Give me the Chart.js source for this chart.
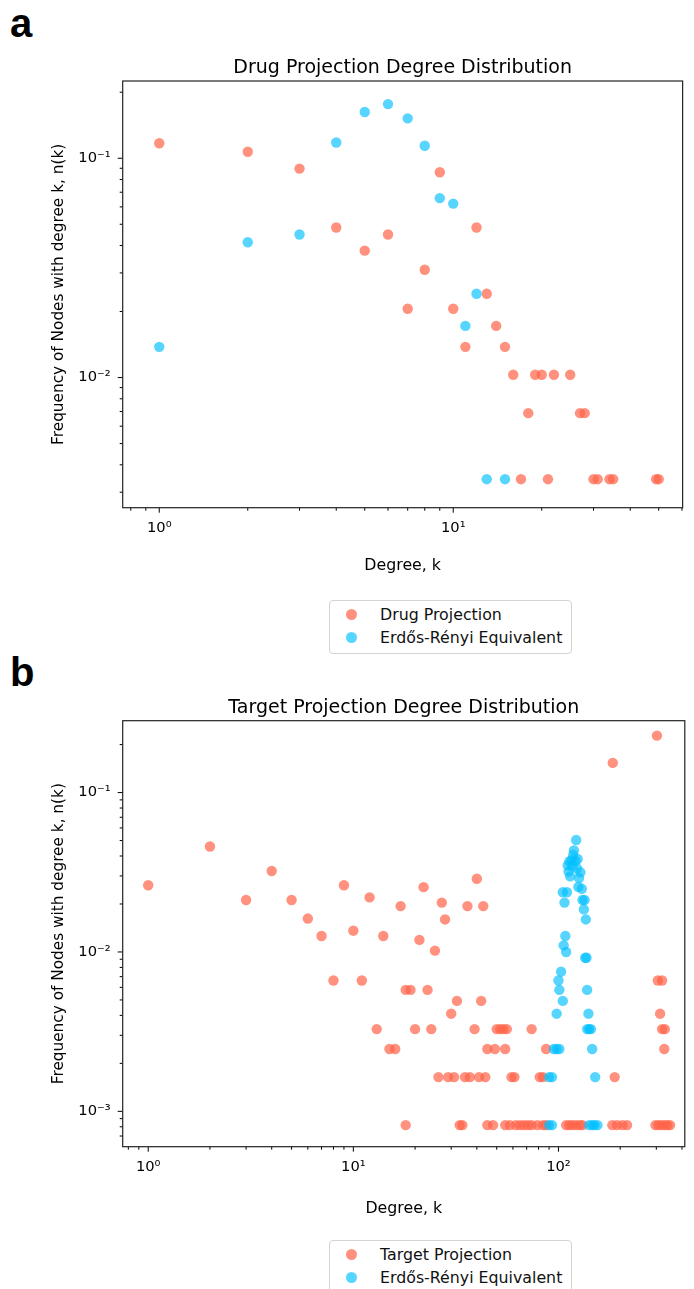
<!DOCTYPE html>
<html>
<head>
<meta charset="utf-8">
<script src="https://cdn.jsdelivr.net/npm/chart.js@4"></script>
<style>
  body { margin: 0; width: 694px; height: 1289px; background: #fff; position: relative; overflow: hidden; font-family: "DejaVu Sans", sans-serif; }
  .panel { position: absolute; left: 10px; font-family: "Liberation Sans", Arial, sans-serif; font-weight: bold; font-size: 40px; line-height: 40px; color: #000; }
  .wrap { position: absolute; left: 0; width: 694px; height: 540px; }
  .legend { position: absolute; left: 329px; width: 241px; border: 1px solid #d4d4d4; border-radius: 4px; background: #fff; font-size: 15.8px; color: #111; padding: 2px 0 4px 0; }
  .legend .row { position: relative; height: 23px; line-height: 23px; padding-left: 50px; }
  .legend .dot { position: absolute; left: 16px; top: 6px; width: 11px; height: 11px; border-radius: 50%; }
</style>
</head>
<body>
<div class="panel" style="top:3px">a</div>
<div class="panel" style="top:652px">b</div>

<div class="wrap" style="top:40px"><canvas id="chartA" width="694" height="540"></canvas></div>
<div class="wrap" style="top:680px"><canvas id="chartB" width="694" height="540"></canvas></div>

<div class="legend" id="legendA" style="top:600px"></div>
<div class="legend" id="legendB" style="top:1240px"></div>

<script>
// PAINEL A - PROJEÇÃO DOS FÁRMACOS (grau k, frequência n(k))
const drugK = [1, 2, 3, 4, 5, 6, 7, 8, 9, 10, 11, 12, 13, 14, 15, 16, 17, 18, 19, 20, 21, 22, 25, 27, 28, 30, 31, 34, 35, 49, 50];
const drugN = [0.117, 0.107, 0.0897, 0.0483, 0.0379, 0.0449, 0.0206, 0.031, 0.0863, 0.0206, 0.0138, 0.0483, 0.0241, 0.0172, 0.0138, 0.0103, 0.00344, 0.00688, 0.0103, 0.0103, 0.00344, 0.0103, 0.0103, 0.00688, 0.00688, 0.00344, 0.00344, 0.00344, 0.00344, 0.00344, 0.00344];
const drugErK = [1, 2, 3, 4, 5, 6, 7, 8, 9, 10, 11, 12, 13, 15];
const drugErN = [0.0138, 0.0414, 0.0449, 0.118, 0.1625, 0.1765, 0.152, 0.114, 0.0658, 0.0621, 0.0172, 0.0241, 0.00344, 0.00344];

// PAINEL B - PROJEÇÃO DOS ALVOS
const targetK = [1, 2, 3, 4, 5, 6, 7, 9, 10, 12, 14, 17, 21, 22, 25, 27, 28, 36, 40, 43, 184, 302,
  8, 11, 305, 320,
  18, 19, 23,
  32, 42,
  30, 313,
  13, 20, 24, 39, 50, 52, 54, 56, 74, 320, 330,
  15, 16, 45, 49, 55, 87, 328,
  26, 29, 31, 35, 37, 41, 44, 59, 61, 81, 84, 188,
  18, 33, 34, 45, 48, 55, 58, 62, 65, 68, 71, 74, 79, 84, 87, 109, 113, 117, 122, 127, 131, 183, 193, 205, 216, 297, 307, 318, 330, 340, 350];
const targetN = [0.0262, 0.0459, 0.0212, 0.0322, 0.0212, 0.0162, 0.0126, 0.0262, 0.0136, 0.022, 0.0126, 0.0194, 0.0119, 0.0255, 0.0102, 0.0204, 0.016, 0.0194, 0.0288, 0.0194, 0.1535, 0.2276,
  0.00662, 0.00662, 0.00662, 0.00662,
  0.00578, 0.00578, 0.00578,
  0.00493, 0.00493,
  0.0041, 0.0041,
  0.00328, 0.00328, 0.00328, 0.00328, 0.00328, 0.00328, 0.00328, 0.00328, 0.00328, 0.00328, 0.00328,
  0.00246, 0.00246, 0.00246, 0.00246, 0.00246, 0.00246, 0.00246,
  0.00164, 0.00164, 0.00164, 0.00164, 0.00164, 0.00164, 0.00164, 0.00164, 0.00164, 0.00164, 0.00164, 0.00164,
  0.00082, 0.00082, 0.00082, 0.00082, 0.00082, 0.00082, 0.00082, 0.00082, 0.00082, 0.00082, 0.00082, 0.00082, 0.00082, 0.00082, 0.00082, 0.00082, 0.00082, 0.00082, 0.00082, 0.00082, 0.00082, 0.00082, 0.00082, 0.00082, 0.00082, 0.00082, 0.00082, 0.00082, 0.00082, 0.00082, 0.00082];
const targetErK = [122, 119, 118, 124, 113, 111, 117, 112, 128, 114, 126, 116, 121, 123, 105, 110, 125, 130, 107, 131, 134, 133, 136, 108, 106, 109, 135, 137, 103, 100, 101, 138, 105, 98, 140,
  138, 141, 144, 95, 98, 101, 146, 90, 93, 151, 90, 93, 141, 146, 150, 155];
const targetErN = [0.0504, 0.0434, 0.0407, 0.0383, 0.037, 0.0349, 0.0344, 0.032, 0.0316, 0.0298, 0.0291, 0.0378, 0.0372, 0.0335, 0.0237, 0.0237, 0.0256, 0.0249, 0.0204, 0.0212, 0.0212, 0.0185, 0.016, 0.0126, 0.011, 0.01, 0.0092, 0.0092, 0.00752, 0.00662, 0.00578, 0.00578, 0.00493, 0.0041, 0.0041,
  0.00328, 0.00328, 0.00328, 0.00246, 0.00246, 0.00246, 0.00246, 0.00164, 0.00164, 0.00164, 0.00082, 0.00082, 0.00082, 0.00082, 0.00082, 0.00082];

// RÓTULOS DOS TICKS (DÉCADAS)
const xDecades = [1, 10, 100];
const xDecadeLabels = ['10⁰', '10¹', '10²'];
const yDecades = [0.001, 0.01, 0.1];
const yDecadeLabels = ['10⁻³', '10⁻²', '10⁻¹'];

const RED = 'rgba(255, 99, 71, 0.7)';
const BLUE = 'rgba(0, 191, 255, 0.66)';

Chart.defaults.font.family = '"DejaVu Sans", sans-serif';
Chart.defaults.color = '#000';

function toPoints(ks, ns) {
  return ks.map((k, i) => ({ x: k, y: ns[i] }));
}

// ticks menores de matplotlib: 1..9 x 10^e
function logTicks(min, max) {
  const out = [];
  for (let e = Math.floor(Math.log10(min)); e <= Math.ceil(Math.log10(max)); e++) {
    for (let m = 1; m < 10; m++) {
      const v = m * Math.pow(10, e);
      if (v >= min && v <= max) out.push({ value: v });
    }
  }
  return out;
}

function decadeLabel(value, decades, labels) {
  const idx = decades.findIndex(d => Math.abs(value - d) / d < 1e-6);
  return idx >= 0 ? labels[idx] : '';
}

// moldura e tracinhos dos ticks (maior = década)
const framePlugin = {
  id: 'frame',
  afterDraw(chart) {
    const { ctx, chartArea: a } = chart;
    ctx.save();
    ctx.strokeStyle = '#000';
    ctx.lineWidth = 1;
    ['x', 'y'].forEach(id => {
      const s = chart.scales[id];
      s.ticks.forEach(t => {
        const major = Math.abs(Math.log10(t.value) - Math.round(Math.log10(t.value))) < 1e-6;
        const len = major ? 5 : 3;
        const p = s.getPixelForValue(t.value);
        ctx.beginPath();
        if (id === 'x') { ctx.moveTo(p, a.bottom); ctx.lineTo(p, a.bottom + len); }
        else { ctx.moveTo(a.left, p); ctx.lineTo(a.left - len, p); }
        ctx.stroke();
      });
    });
    ctx.lineWidth = 1.2;
    ctx.strokeStyle = '#222';
    ctx.strokeRect(a.left, a.top, a.right - a.left, a.bottom - a.top);
    ctx.restore();
  }
};

function makeChart(id, title, sets, g) {
  const chart = new Chart(document.getElementById(id), {
    type: 'scatter',
    data: {
      datasets: sets.map(s => ({
        label: s.label,
        data: s.data,
        backgroundColor: s.color,
        borderWidth: 0,
        pointRadius: 5.2,
        pointHoverRadius: 5.2,
        order: s.order
      }))
    },
    options: {
      responsive: false,
      animation: false,
      layout: { padding: { left: 0, right: 6, top: 0, bottom: 0 } },
      plugins: {
        legend: { display: false },
        tooltip: { enabled: false },
        title: {
          display: true, text: title, fullSize: false,
          font: { size: 19, weight: 'normal' }, color: '#000',
          padding: { top: g.titleTop, bottom: g.titleBottom }
        }
      },
      scales: {
        x: {
          type: 'logarithmic', min: g.xmin, max: g.xmax,
          afterBuildTicks: s => { s.ticks = logTicks(g.xmin, g.xmax); },
          afterFit: s => { s.height = g.xAxisH; },
          grid: { display: false, drawTicks: false },
          border: { display: false },
          ticks: {
            autoSkip: false, maxRotation: 0, padding: 12, font: { size: 14.7 },
            callback: v => decadeLabel(v, xDecades, xDecadeLabels)
          },
          title: { display: true, text: 'Degree, k', font: { size: 15.8 }, padding: { top: 0, bottom: g.xTitlePad } }
        },
        y: {
          type: 'logarithmic', min: g.ymin, max: g.ymax,
          afterBuildTicks: s => { s.ticks = logTicks(g.ymin, g.ymax); },
          afterFit: s => { s.width = 122.7; },
          grid: { display: false, drawTicks: false },
          border: { display: false },
          ticks: {
            autoSkip: false, padding: 12, font: { size: 14.7 },
            callback: v => decadeLabel(v, yDecades, yDecadeLabels)
          },
          title: { display: true, text: 'Frequency of Nodes with degree k, n(k)', font: { size: 15.3 }, padding: { top: 49.5, bottom: 0 } }
        }
      }
    },
    plugins: [framePlugin]
  });
  return chart;
}

function buildLegend(elId, chart) {
  const el = document.getElementById(elId);
  chart.data.datasets.forEach(ds => {
    const row = document.createElement('div');
    row.className = 'row';
    const dot = document.createElement('span');
    dot.className = 'dot';
    dot.style.background = ds.backgroundColor;
    row.appendChild(dot);
    row.appendChild(document.createTextNode(ds.label));
    el.appendChild(row);
  });
}

const chartA = makeChart('chartA', 'Drug Projection Degree Distribution', [
  { label: 'Drug Projection', data: toPoints(drugK, drugN), color: RED, order: 1 },
  { label: 'Erdős-Rényi Equivalent', data: toPoints(drugErK, drugErN), color: BLUE, order: 0 }
], { xmin: 0.751, xmax: 60.3, ymin: 0.00255, ymax: 0.225, titleTop: 16.6, titleBottom: 1.6, xAxisH: 72.3, xTitlePad: 4.5 });

const chartB = makeChart('chartB', 'Target Projection Degree Distribution', [
  { label: 'Target Projection', data: toPoints(targetK, targetN), color: RED, order: 1 },
  { label: 'Erdős-Rényi Equivalent', data: toPoints(targetErK, targetErN), color: BLUE, order: 0 }
], { xmin: 0.751, xmax: 413, ymin: 0.00061, ymax: 0.2825, titleTop: 16.6, titleBottom: 1.3, xAxisH: 73.3, xTitlePad: 1.5 });

buildLegend('legendA', chartA);
buildLegend('legendB', chartB);
</script>
</body>
</html>
